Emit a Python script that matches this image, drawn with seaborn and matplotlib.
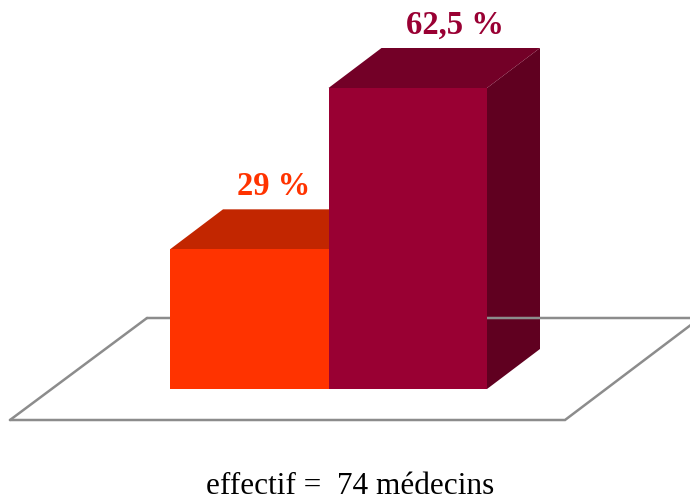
import matplotlib
matplotlib.use("Agg")
import matplotlib.pyplot as plt
from matplotlib.patches import Polygon
import seaborn as sns
import pandas as pd

# ---- data ----
categories = ["A", "B"]
values = [29.0, 62.5]
value_labels = ["29 %", "62,5 %"]
front_colors = ["#FF3300", "#990033"]
top_colors = ["#C22600", "#730027"]
side_colors = ["#A82000", "#600020"]
footer = "effectif =  74 médecins"

sns.set_theme(style="white")
plt.rcParams["font.family"] = ["Liberation Serif", "DejaVu Serif"]

W, H = 690, 501
fig = plt.figure(figsize=(W / 100, H / 100), dpi=100)
fig.patch.set_facecolor("white")

# background pixel axes (y downward)
ax_bg = fig.add_axes([0, 0, 1, 1])
ax_bg.set_xlim(0, W)
ax_bg.set_ylim(H, 0)
ax_bg.axis("off")

# bar axes: front faces of the bars
x0, x1 = 170, 487
y_base, y_top = 389, 88
ymax = 62.5
ax = fig.add_axes([x0 / W, (H - y_base) / H, (x1 - x0) / W, (y_base - y_top) / H])
ax.patch.set_visible(False)

df = pd.DataFrame({"cat": categories, "val": values})
sns.barplot(data=df, x="cat", y="val", hue="cat", palette=front_colors,
            width=1.0, legend=False, ax=ax, saturation=1, linewidth=0)
ax.set_xlim(-0.5, 1.5)
ax.set_ylim(0, ymax)
ax.axis("off")

# floor parallelogram
floor = [(10, 420), (565, 420), (700, 318), (147, 318)]
ax_bg.plot([p[0] for p in floor], [p[1] for p in floor], color="#8C8C8C", lw=1.8,
           solid_joinstyle="miter")
ax_bg.plot([floor[0][0], floor[3][0]], [floor[0][1], floor[3][1]], color="#8C8C8C", lw=1.8)

dx, dy = 53, -40
label_dx = [24, 47]
for i, patch in enumerate(ax.patches):
    bx, by = patch.get_x(), patch.get_height()
    bw = patch.get_width()
    (l, b) = ax.transData.transform((bx, 0))
    (r, t) = ax.transData.transform((bx + bw, by))
    L, R = l, r
    T, B = H - t, H - b
    top = Polygon([(L, T), (R, T), (R + dx, T + dy), (L + dx, T + dy)],
                  closed=True, facecolor=top_colors[i], edgecolor="none")
    side = Polygon([(R, T), (R + dx, T + dy), (R + dx, B + dy), (R, B)],
                   closed=True, facecolor=side_colors[i], edgecolor="none")
    ax_bg.add_patch(side)
    ax_bg.add_patch(top)
    ax_bg.text((L + R) / 2 + label_dx[i], T + dy - 14, value_labels[i],
               ha="center", va="baseline", fontsize=23.5, fontweight="bold",
               color=front_colors[i])

ax_bg.text(350, 494, footer, ha="center", va="baseline", fontsize=22.5, color="black")

fig.savefig("out.png", dpi=100, facecolor="white")
